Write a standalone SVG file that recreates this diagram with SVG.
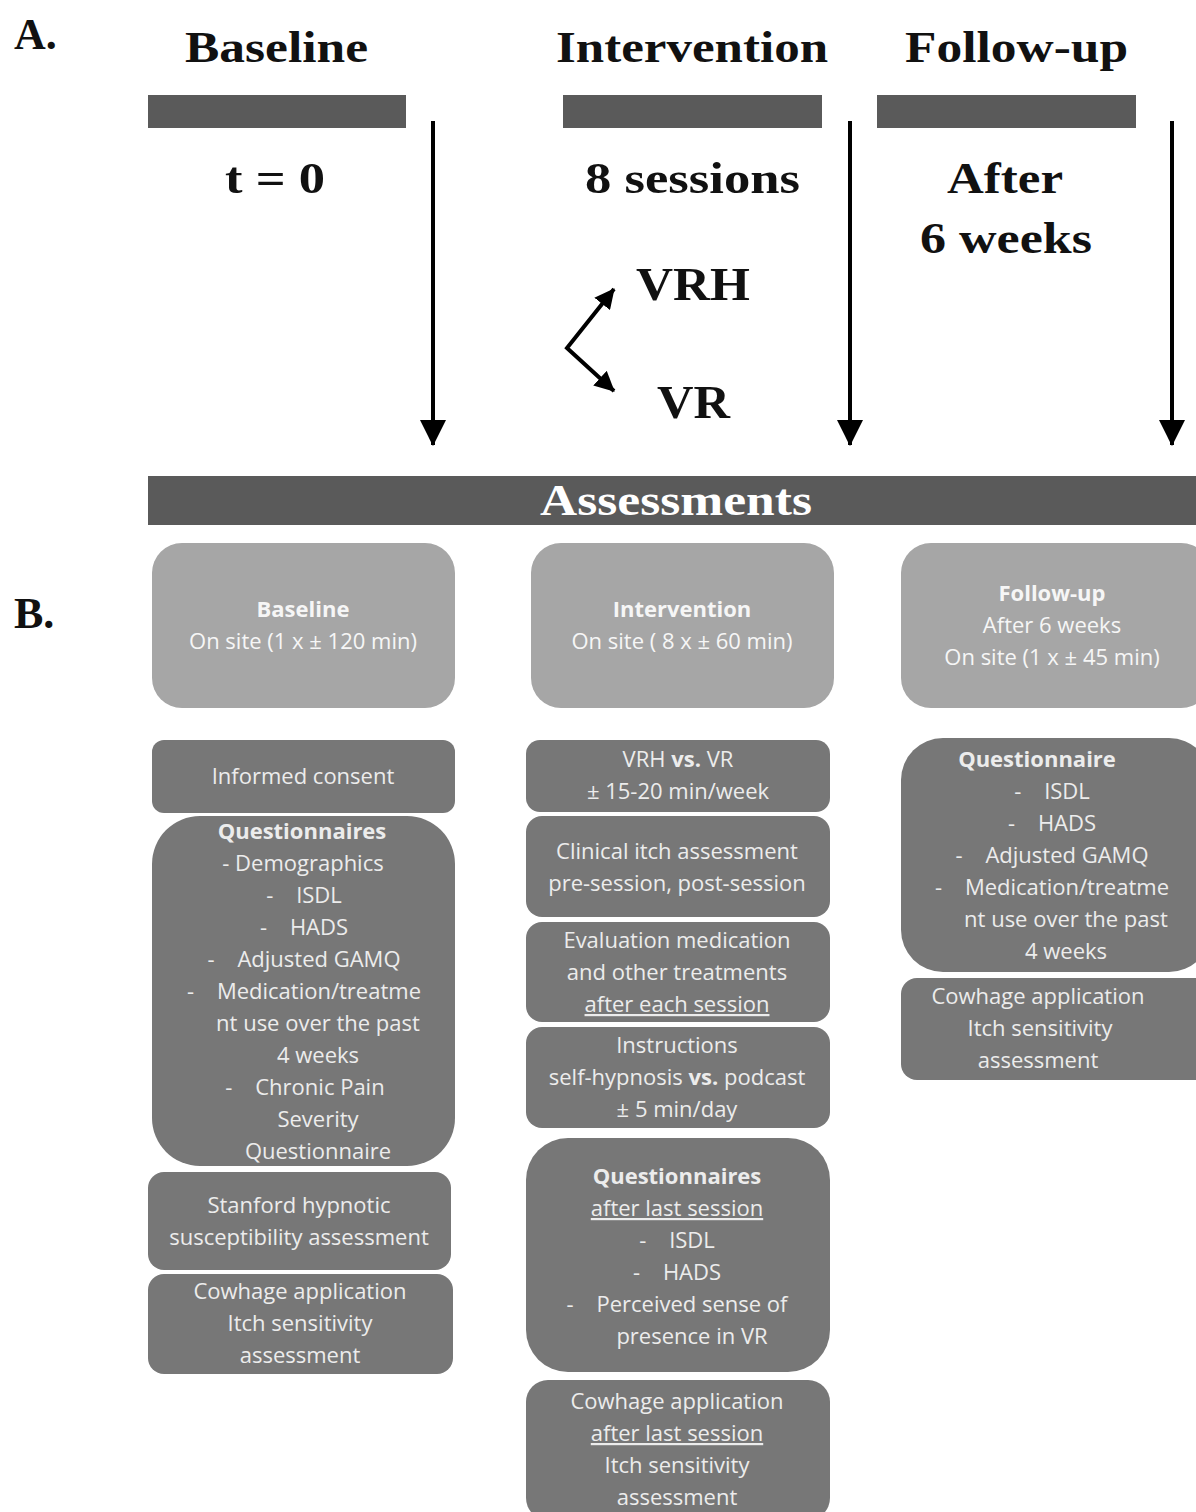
<svg xmlns="http://www.w3.org/2000/svg" width="1196" height="1512" viewBox="0 0 1196 1512">
<defs>
<style>
.ser{font-family:"Liberation Serif","Times New Roman",serif;font-weight:bold;fill:#111}
.bar{fill:#5a5a5a}
.lt{fill:#a6a6a6}
.dk{fill:#777777}
.t{font-family:"Open Sans","Liberation Sans",sans-serif;font-size:22px;fill:#ececec;text-anchor:middle;white-space:pre}
.th{font-family:"Open Sans","Liberation Sans",sans-serif;font-size:22px;fill:#f6f6f6;text-anchor:middle;white-space:pre}
.b{font-weight:bold}
.u{text-decoration:underline}
.ar{stroke:#000;stroke-width:4;fill:none}
</style>
<marker id="ah" markerUnits="userSpaceOnUse" markerWidth="26" markerHeight="26" viewBox="0 0 24 24" refX="23" refY="12" orient="auto-start-reverse">
<path d="M0,0 L24,12 L0,24 z" fill="#000"/>
</marker>
<marker id="ah2" markerUnits="userSpaceOnUse" markerWidth="20" markerHeight="20" viewBox="0 0 20 20" refX="19" refY="10" orient="auto-start-reverse">
<path d="M0,0 L20,10 L0,20 z" fill="#000"/>
</marker>
</defs>

<g id="panelA">
<text class="ser" x="14" y="49" font-size="44">A.</text>
<text class="ser" x="14" y="628" font-size="44">B.</text>

<g id="phase-baseline">
<text class="ser" x="185" y="62" font-size="44" textLength="183" lengthAdjust="spacingAndGlyphs">Baseline</text>
<rect class="bar" x="148" y="95" width="258" height="33"/>
<text class="ser" x="225" y="193" font-size="44" textLength="100" lengthAdjust="spacingAndGlyphs">t = 0</text>
</g>
<g id="phase-intervention">
<text class="ser" x="556" y="62" font-size="44" textLength="272" lengthAdjust="spacingAndGlyphs">Intervention</text>
<rect class="bar" x="563" y="95" width="259" height="33"/>
<text class="ser" x="585" y="193" font-size="44" textLength="215" lengthAdjust="spacingAndGlyphs">8 sessions</text>
<text class="ser" x="636" y="300" font-size="46" textLength="114" lengthAdjust="spacingAndGlyphs">VRH</text>
<text class="ser" x="657" y="418" font-size="46" textLength="73" lengthAdjust="spacingAndGlyphs">VR</text>
</g>
<g id="phase-followup">
<text class="ser" x="905" y="62" font-size="44" textLength="223" lengthAdjust="spacingAndGlyphs">Follow-up</text>
<rect class="bar" x="877" y="95" width="259" height="33"/>
<text class="ser" x="947" y="193" font-size="44" textLength="116" lengthAdjust="spacingAndGlyphs">After</text>
<text class="ser" x="920" y="253" font-size="44" textLength="172" lengthAdjust="spacingAndGlyphs">6 weeks</text>
</g>
<g id="assessments-bar">
<rect class="bar" x="148" y="476" width="1048" height="49"/>
<text class="ser" x="540" y="515" font-size="44" fill="#fff" style="fill:#fff" textLength="272" lengthAdjust="spacingAndGlyphs">Assessments</text>
</g>
</g>

<g id="connectors">
<line class="ar" x1="433" y1="121" x2="433" y2="445" marker-end="url(#ah)"/>
<line class="ar" x1="850" y1="121" x2="850" y2="445" marker-end="url(#ah)"/>
<line class="ar" x1="1172" y1="121" x2="1172" y2="445" marker-end="url(#ah)"/>
<path class="ar" d="M614,289 L567,348 L614,391" marker-start="url(#ah2)" marker-end="url(#ah2)"/>
</g>

<g id="col-baseline">
<g id="b-header">
<rect class="lt" x="152" y="543" width="303" height="165" rx="30"/>
<text class="th b" x="303" y="617">Baseline</text>
<text class="th" x="303" y="649">On site (1 x ± 120 min)</text>
</g>
<g id="b-consent">
<rect class="dk" x="152" y="740" width="303" height="73" rx="12"/>
<text class="t" x="303" y="784">Informed consent</text>
</g>
<g id="b-quest">
<rect class="dk" x="152" y="816" width="303" height="350" rx="48"/>
<text class="t b" x="302" y="839">Questionnaires</text>
<text class="t" x="303" y="871">- Demographics</text>
<text class="t" x="304" y="903">-    ISDL</text>
<text class="t" x="304" y="935">-    HADS</text>
<text class="t" x="304" y="967">-    Adjusted GAMQ</text>
<text class="t" x="304" y="999">-    Medication/treatme</text>
<text class="t" x="318" y="1031">nt use over the past</text>
<text class="t" x="318" y="1063">4 weeks</text>
<text class="t" x="305" y="1095">-    Chronic Pain</text>
<text class="t" x="318" y="1127">Severity</text>
<text class="t" x="318" y="1159">Questionnaire</text>
</g>
<g id="b-stanford">
<rect class="dk" x="148" y="1172" width="303" height="98" rx="16"/>
<text class="t" x="299" y="1213">Stanford hypnotic</text>
<text class="t" x="299" y="1245">susceptibility assessment</text>
</g>
<g id="b-cowhage">
<rect class="dk" x="148" y="1274" width="305" height="100" rx="16"/>
<text class="t" x="300" y="1299">Cowhage application</text>
<text class="t" x="300" y="1331">Itch sensitivity</text>
<text class="t" x="300" y="1363">assessment</text>
</g>
</g>

<g id="col-intervention">
<g id="i-header">
<rect class="lt" x="531" y="543" width="303" height="165" rx="30"/>
<text class="th b" x="682" y="617">Intervention</text>
<text class="th" x="682" y="649">On site ( 8 x ± 60 min)</text>
</g>
<g id="i-vrh">
<rect class="dk" x="526" y="740" width="304" height="72" rx="14"/>
<text class="t" x="678" y="767">VRH <tspan class="b">vs.</tspan> VR</text>
<text class="t" x="678" y="799">± 15-20 min/week</text>
</g>
<g id="i-clinical">
<rect class="dk" x="526" y="816" width="304" height="101" rx="16"/>
<text class="t" x="677" y="859">Clinical itch assessment</text>
<text class="t" x="677" y="891">pre-session, post-session</text>
</g>
<g id="i-eval">
<rect class="dk" x="526" y="922" width="304" height="100" rx="16"/>
<text class="t" x="677" y="948">Evaluation medication</text>
<text class="t" x="677" y="980">and other treatments</text>
<text class="t u" x="677" y="1012">after each session</text>
</g>
<g id="i-instr">
<rect class="dk" x="526" y="1027" width="304" height="101" rx="16"/>
<text class="t" x="677" y="1053">Instructions</text>
<text class="t" x="677" y="1085">self-hypnosis <tspan class="b">vs.</tspan> podcast</text>
<text class="t" x="677" y="1117">± 5 min/day</text>
</g>
<g id="i-quest">
<rect class="dk" x="526" y="1138" width="304" height="234" rx="42"/>
<text class="t b" x="677" y="1184">Questionnaires</text>
<text class="t u" x="677" y="1216">after last session</text>
<text class="t" x="677" y="1248">-    ISDL</text>
<text class="t" x="677" y="1280">-    HADS</text>
<text class="t" x="677" y="1312">-    Perceived sense of</text>
<text class="t" x="692" y="1344">presence in VR</text>
</g>
<g id="i-cowhage">
<rect class="dk" x="526" y="1380" width="304" height="140" rx="22"/>
<text class="t" x="677" y="1409">Cowhage application</text>
<text class="t u" x="677" y="1441">after last session</text>
<text class="t" x="677" y="1473">Itch sensitivity</text>
<text class="t" x="677" y="1505">assessment</text>
</g>
</g>

<g id="col-followup">
<g id="f-header">
<rect class="lt" x="901" y="543" width="310" height="165" rx="30"/>
<text class="th b" x="1052" y="601">Follow-up</text>
<text class="th" x="1052" y="633">After 6 weeks</text>
<text class="th" x="1052" y="665">On site (1 x ± 45 min)</text>
</g>
<g id="f-quest">
<rect class="dk" x="901" y="738" width="310" height="234" rx="42"/>
<text class="t b" x="1037" y="767">Questionnaire</text>
<text class="t" x="1052" y="799">-    ISDL</text>
<text class="t" x="1052" y="831">-    HADS</text>
<text class="t" x="1052" y="863">-    Adjusted GAMQ</text>
<text class="t" x="1052" y="895">-    Medication/treatme</text>
<text class="t" x="1066" y="927">nt use over the past</text>
<text class="t" x="1066" y="959">4 weeks</text>
</g>
<g id="f-cowhage">
<rect class="dk" x="901" y="978" width="310" height="102" rx="16"/>
<text class="t" x="1038" y="1004">Cowhage application</text>
<text class="t" x="1040" y="1036">Itch sensitivity</text>
<text class="t" x="1038" y="1068">assessment</text>
</g>
</g>
</svg>
